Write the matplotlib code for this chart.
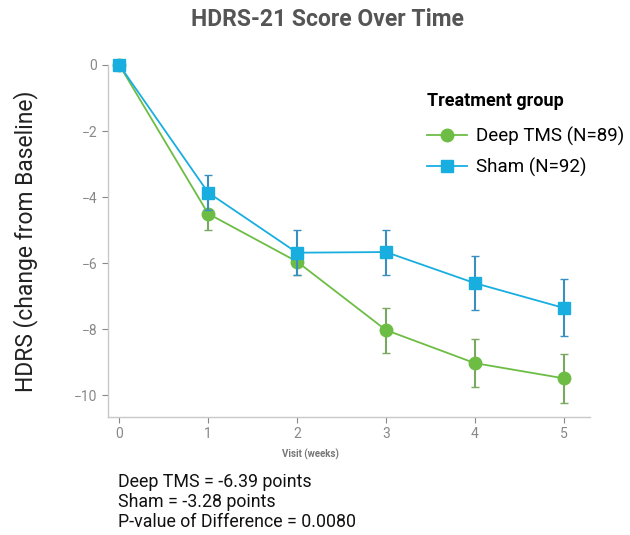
import matplotlib
matplotlib.use('Agg')
import matplotlib.pyplot as plt

plt.rcParams['font.family'] = ['Roboto', 'DejaVu Sans']

weeks = [0, 1, 2, 3, 4, 5]
deep_tms = [0, -4.5, -5.95, -8.02, -9.02, -9.48]
deep_err = [0, 0.5, 0.4, 0.68, 0.72, 0.75]
sham = [0, -3.86, -5.68, -5.66, -6.6, -7.35]
sham_err = [0, 0.52, 0.68, 0.68, 0.82, 0.86]
yticks = [0, -2, -4, -6, -8, -10]
notes = ['Deep TMS = -6.39 points', 'Sham = -3.28 points', 'P-value of Difference = 0.0080']

green = '#6dbd45'
blue = '#19aee0'

fig = plt.figure(figsize=(6.3, 5.35), dpi=100)
ax = fig.add_axes([0.171, 0.2206, 0.766, 0.658])

c1 = ax.errorbar(weeks, deep_tms, yerr=deep_err, color=green, ecolor='#7aa860', marker='o', markersize=9,
                 linewidth=1.3, elinewidth=1.5, capsize=3, clip_on=False, zorder=3)
c2 = ax.errorbar(weeks, sham, yerr=sham_err, color=blue, ecolor='#3a8fc0', marker='s', markersize=9,
                 linewidth=1.3, elinewidth=1.5, capsize=3, clip_on=False, zorder=4)

ax.set_xlim(-0.13, 5.3)
ax.set_ylim(-10.65, 0)
ax.set_xticks(weeks)
ax.set_yticks(yticks)
ax.tick_params(colors='#888888', labelsize=10, length=4, width=0.8)
for s in ('top', 'right'):
    ax.spines[s].set_visible(False)
for s in ('left', 'bottom'):
    ax.spines[s].set_color('#c8c8c8')
    ax.spines[s].set_linewidth(1)

ax.set_xlabel('Visit (weeks)', fontsize=7, fontweight='bold', color='#777777', labelpad=4)
ax.xaxis.set_label_coords(0.42, -0.09)
fig.text(0.04, 0.55, 'HDRS (change from Baseline)', rotation=90, fontsize=16.5, color='#222222',
         va='center', ha='center')
fig.text(0.52, 0.963, 'HDRS-21 Score Over Time', fontsize=16.5, fontweight='bold', color='#555555',
         ha='center', va='center')

leg = ax.legend([c1[0], c2[0]], ['Deep TMS (N=89)', 'Sham (N=92)'], title='Treatment group',
                loc='upper left', bbox_to_anchor=(0.627, 0.97), frameon=False,
                fontsize=13.5, title_fontproperties={'weight': 'bold', 'size': 13}, handlelength=2.1,
                labelspacing=0.6, handletextpad=0.5)
leg._legend_box.align = 'left'
leg._legend_box.sep = 12

for i, t in enumerate(notes):
    fig.text(0.187, 0.099 - i * 0.0375, t, fontsize=12.8, color='#111111', va='center')

fig.savefig('out.png', dpi=100)
